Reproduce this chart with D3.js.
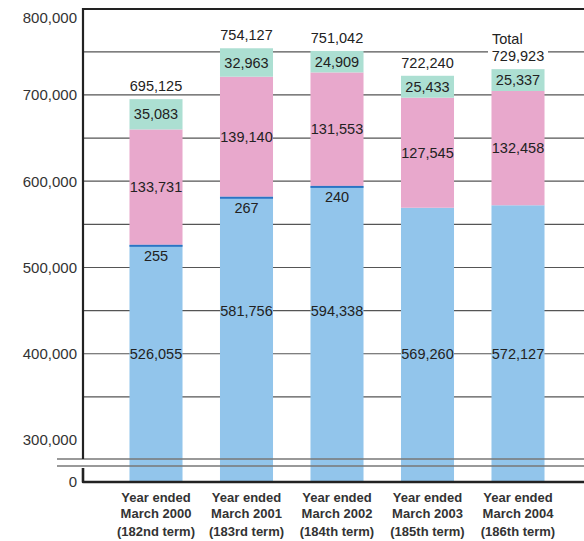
<!DOCTYPE html>
<html>
<head>
<meta charset="utf-8">
<script src="https://cdn.jsdelivr.net/npm/d3@7"></script>
<style>
  body { margin: 0; background: #fff; }
  text { font-family: "Liberation Sans", Arial, sans-serif; }
</style>
</head>
<body>
<div id="chart"></div>
<script>
// data
var years = ["Year ended", "Year ended", "Year ended", "Year ended", "Year ended"];
var months = ["March 2000", "March 2001", "March 2002", "March 2003", "March 2004"];
var terms = ["(182nd term)", "(183rd term)", "(184th term)", "(185th term)", "(186th term)"];
var blueValues = [526055, 581756, 594338, 569260, 572127];
var darkValues = [255, 267, 240, 0, 0];
var pinkValues = [133731, 139140, 131553, 127545, 132458];
var tealValues = [35083, 32963, 24909, 25433, 25337];
var totals = [695125, 754127, 751042, 722240, 729923];
var yTicks = [300000, 400000, 500000, 600000, 700000, 800000];
var gridValues = [350000, 400000, 450000, 500000, 550000, 600000, 650000, 700000, 750000];

var svgWidth = 584, svgHeight = 541;
var axisX = 83, topY = 9, zeroY = 482, breakY1 = 459, breakY2 = 466;

var svg = d3.select("#chart").append("svg")
    .attr("width", svgWidth)
    .attr("height", svgHeight);

// broken y scale: 300,000 - 800,000 shown, 0 sits on the bottom axis
var y = d3.scaleLinear().domain([300000, 800000]).range([440, 8.7]);
var yPos = function(v) { return v === 0 ? zeroY : y(v); };

var x = d3.scaleBand()
    .domain(d3.range(blueValues.length))
    .range([110.75, 563.25])
    .paddingInner(0.414)
    .paddingOuter(0.207);

// gridlines
svg.append("g").selectAll("line")
    .data(gridValues)
    .enter().append("line")
    .attr("x1", axisX).attr("x2", svgWidth)
    .attr("y1", d => y(d)).attr("y2", d => y(d))
    .attr("stroke", "#555")
    .attr("stroke-width", 1.2);

// stack the segments
var rows = blueValues.map(function(b, i) {
    return { i: i, blue: b, dark: darkValues[i], pink: pinkValues[i], teal: tealValues[i] };
});
var keys = ["blue", "dark", "pink", "teal"];
var colors = { blue: "#92c5eb", dark: "#2a74c4", pink: "#e8a8cc", teal: "#acdfd2" };
var series = d3.stack().keys(keys)(rows);

var bars = svg.append("g");
// draw the thin dark segment last so it stays visible
var drawOrder = ["blue", "pink", "teal", "dark"];
drawOrder.forEach(function(key) {
    var s = series.find(t => t.key === key);
    bars.selectAll(".seg-" + key)
        .data(s.filter(d => d[1] - d[0] > 0))
        .enter().append("rect")
        .attr("x", d => x(d.data.i))
        .attr("width", x.bandwidth())
        .attr("y", d => yPos(d[1]))
        .attr("height", function(d) {
            var h = yPos(d[0]) - yPos(d[1]);
            return key === "dark" ? Math.max(h, 2) : h;
        })
        .attr("fill", colors[key]);
});

// break lines (drawn across the bars)
[breakY1, breakY2].forEach(function(by) {
    svg.append("line")
        .attr("x1", 57).attr("x2", svgWidth)
        .attr("y1", by).attr("y2", by)
        .attr("stroke", "#777")
        .attr("stroke-width", 1.5);
});

// axes frame
svg.append("line")
    .attr("x1", axisX).attr("x2", svgWidth)
    .attr("y1", topY).attr("y2", topY)
    .attr("stroke", "#222").attr("stroke-width", 2.2);
svg.append("line")
    .attr("x1", axisX).attr("x2", axisX)
    .attr("y1", topY - 1).attr("y2", breakY1)
    .attr("stroke", "#222").attr("stroke-width", 2.2);
svg.append("path")
    .attr("d", "M" + axisX + "," + (breakY2 + 2) + "L" + axisX + "," + zeroY + "L" + svgWidth + "," + zeroY)
    .attr("fill", "none")
    .attr("stroke", "#222").attr("stroke-width", 2.6)
    .attr("stroke-linejoin", "round");

// y tick labels
var yAxis = d3.axisLeft(y)
    .tickValues(yTicks)
    .tickFormat(d3.format(","))
    .tickSize(0)
    .tickPadding(0);
var yg = svg.append("g")
    .attr("transform", "translate(" + (axisX - 6) + ",0)")
    .call(yAxis);
yg.select(".domain").remove();
yg.selectAll("text")
    .attr("font-size", "15px")
    .attr("font-family", "Liberation Sans, Arial, sans-serif")
    .attr("fill", "#333");
yg.selectAll(".tick").filter(d => d === 800000).select("text").attr("dy", "0.9em");
svg.append("text")
    .attr("x", axisX - 6).attr("y", zeroY)
    .attr("dy", "0.32em")
    .attr("text-anchor", "end")
    .attr("font-size", "15px")
    .attr("fill", "#333")
    .text("0");

// white box behind the last total so the 750,000 line breaks around it
var last = totals.length - 1;
var lastCx = x(last) + x.bandwidth() / 2;
svg.append("rect")
    .attr("x", lastCx - 30).attr("y", y(totals[last]) - 40)
    .attr("width", 60).attr("height", 35)
    .attr("fill", "#fff");

var fmt = d3.format(",");
var labels = svg.append("g")
    .attr("font-size", "14.5px")
    .attr("fill", "#222")
    .attr("text-anchor", "middle");

// blue labels sit on the 400,000 / 450,000 gridlines
var blueLabelLevel = [400000, 450000, 450000, 400000, 400000];
labels.selectAll(".blue-label")
    .data(rows).enter().append("text")
    .attr("x", d => x(d.i) + x.bandwidth() / 2)
    .attr("y", d => y(blueLabelLevel[d.i]))
    .attr("dy", "0.35em")
    .text(d => fmt(d.blue));

// small values just under the dark line
labels.selectAll(".dark-label")
    .data(rows.filter(d => d.dark > 0)).enter().append("text")
    .attr("x", d => x(d.i) + x.bandwidth() / 2)
    .attr("y", d => y(d.blue + d.dark) + 11)
    .attr("dy", "0.35em")
    .text(d => fmt(d.dark));

labels.selectAll(".pink-label")
    .data(rows).enter().append("text")
    .attr("x", d => x(d.i) + x.bandwidth() / 2)
    .attr("y", d => (y(d.blue + d.dark) + y(d.blue + d.dark + d.pink)) / 2)
    .attr("dy", "0.35em")
    .text(d => fmt(d.pink));

labels.selectAll(".teal-label")
    .data(rows).enter().append("text")
    .attr("x", d => x(d.i) + x.bandwidth() / 2)
    .attr("y", d => (y(d.blue + d.dark + d.pink) + y(d.blue + d.dark + d.pink + d.teal)) / 2)
    .attr("dy", "0.35em")
    .text(d => fmt(d.teal));

// totals
labels.selectAll(".total-label")
    .data(totals).enter().append("text")
    .attr("x", (d, i) => x(i) + x.bandwidth() / 2)
    .attr("y", d => y(d) - 13)
    .attr("dy", "0.35em")
    .text(d => fmt(d));
labels.append("text")
    .attr("x", lastCx - 26)
    .attr("y", y(totals[last]) - 30)
    .attr("dy", "0.35em")
    .attr("text-anchor", "start")
    .text("Total");

// category labels
var cats = svg.append("g")
    .attr("font-size", "13px")
    .attr("font-weight", "bold")
    .attr("fill", "#333")
    .attr("text-anchor", "middle");
[years, months, terms].forEach(function(arr, row) {
    cats.selectAll(".cat-" + row)
        .data(arr).enter().append("text")
        .attr("x", (d, i) => x(i) + x.bandwidth() / 2)
        .attr("y", [497, 513, 531][row])
        .attr("dy", "0.35em")
        .text(d => d);
});
</script>
</body>
</html>
